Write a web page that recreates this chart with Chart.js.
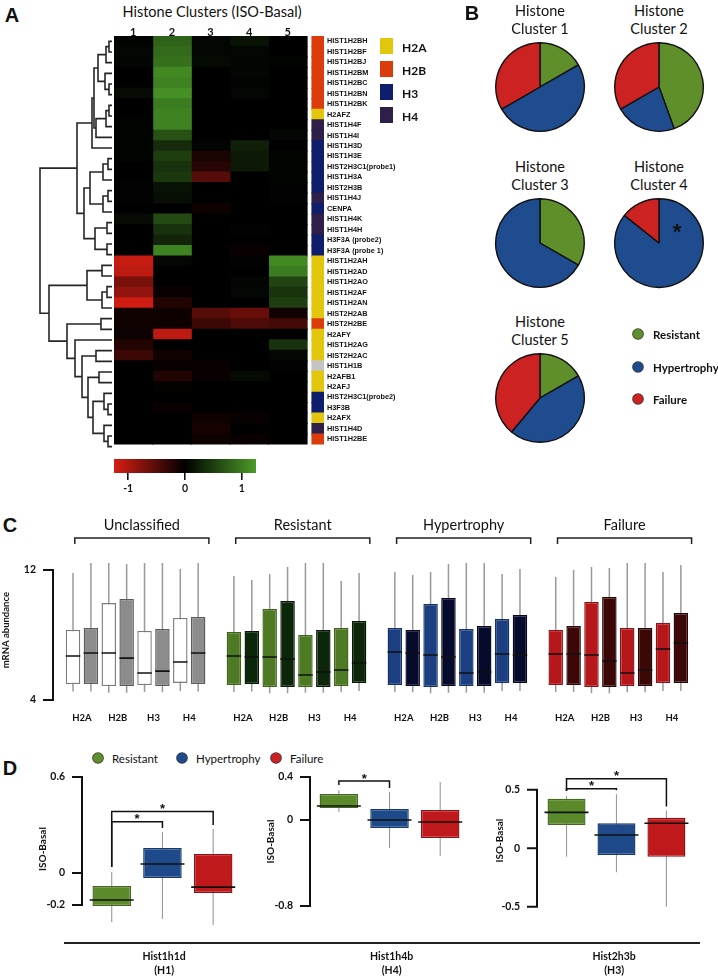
<!DOCTYPE html>
<html>
<head>
<meta charset="utf-8">
<script src="https://cdn.jsdelivr.net/npm/chart.js@4.4.1/dist/chart.umd.min.js"></script>
<style>
  body { margin: 0; width: 718px; height: 978px; position: relative; overflow: hidden; background: #fff; color: #111; font-family: Lato, "Open Sans", sans-serif; }
  canvas { position: absolute; }
  .t { position: absolute; white-space: nowrap; line-height: 1; }
</style>
</head>
<body>
<script>
// ---------- panel A : heatmap ----------
const colLabels = ['1', '2', '3', '4', '5'];
const geneNames = ['HIST1H2BH', 'HIST1H2BF', 'HIST1H2BJ', 'HIST1H2BM', 'HIST1H2BC', 'HIST1H2BN', 'HIST1H2BK', 'H2AFZ',
  'HIST1H4F', 'HIST1H4I', 'HIST1H3D', 'HIST1H3E', 'HIST2H3C1(probe1)', 'HIST1H3A', 'HIST2H3B', 'HIST1H4J', 'CENPA',
  'HIST1H4K', 'HIST1H4H', 'H3F3A (probe2)', 'H3F3A (probe 1)', 'HIST1H2AH', 'HIST1H2AD', 'HIST1H2AO', 'HIST1H2AF',
  'HIST1H2AN', 'HIST2H2AB', 'HIST2H2BE', 'H2AFY', 'HIST1H2AG', 'HIST2H2AC', 'HIST1H1B', 'H2AFB1', 'H2AFJ',
  'HIST2H3C1(probe2)', 'H3F3B', 'H2AFX', 'HIST1H4D', 'HIST1H2BE'];
const geneTypes = ['H2B', 'H2B', 'H2B', 'H2B', 'H2B', 'H2B', 'H2B', 'H2A',
  'H4', 'H4', 'H3', 'H3', 'H3', 'H3', 'H3', 'H4', 'H3',
  'H4', 'H4', 'H3', 'H3', 'H2A', 'H2A', 'H2A', 'H2A',
  'H2A', 'H2A', 'H2B', 'H2A', 'H2A', 'H2A', 'H1', 'H2A', 'H2A',
  'H3', 'H3', 'H2A', 'H4', 'H2B'];
const cluster1 = [0.03, 0.05, 0.05, 0, 0, 0.1, 0, 0, 0.03, 0.03, 0.03, 0.03, 0, 0, 0.02, 0.02, 0, 0.1, 0, 0, 0,
  -1.15, -1.1, -0.7, -0.85, -1.2, -0.1, -0.1, -0.07, -0.2, -0.35, 0, 0, 0, 0, 0, 0, 0, 0];
const cluster2 = [0.8, 0.85, 0.9, 1.1, 1.05, 1.15, 1.0, 1.05, 1.05, 0.65, 0.35, 0.5, 0.4, 0.45, 0.15, 0.12, 0, 0.6, 0.4, 0.3, 1.05,
  0.05, 0, 0, -0.05, -0.2, -0.08, -0.08, -1.1, 0, -0.1, -0.05, -0.2, -0.03, 0, -0.05, 0, 0, 0];
const cluster3 = [0.05, 0.05, 0.08, 0, 0, 0, 0, 0, 0, 0, 0.03, -0.15, -0.22, -0.5, 0, 0, -0.08, 0, 0, 0, 0,
  0, 0, 0, 0, 0, -0.5, -0.35, 0, 0, 0, -0.05, -0.05, 0, 0, 0, -0.08, -0.12, -0.08];
const cluster4 = [0.15, 0.05, 0.05, 0.05, 0.03, 0.05, 0, 0, 0, 0, 0.25, 0.2, 0.2, 0, 0, 0, 0, 0, 0.02, 0, -0.05,
  0.02, 0, 0.05, 0.05, 0, -0.6, -0.45, 0, 0, 0, 0, 0.08, 0, 0, 0, -0.05, 0, -0.05];
const cluster5 = [0, 0, 0.03, 0, 0, 0, 0, 0, 0, 0.05, 0, 0.03, 0.03, 0.03, 0.02, 0.02, 0, 0, 0, 0, 0,
  1.1, 1.0, 0.55, 0.42, 0.5, -0.1, -0.4, 0, 0.4, 0.05, 0.02, 0, 0, 0, 0, 0, 0, 0];
const histoneTypes = ['H2A', 'H2B', 'H3', 'H4'];
const colorbarTicks = [-1, 0, 1];
const colorbarRange = [-1.25, 1.25];
// dendrogram: [left, right, merge height], leaves are row numbers
const dendroTree = [
  [
    [[[[[1, 2, 3], 3, 6], [4, [5, 6, 3], 7], 14], [[[7, 8, 3], 9, 6], 10, 16], 18], 11, 20],
    [[[[12, 13, 4], 14, 9], [[15, 16, 4], 17, 9], 22], [[18, 19, 5], [20, 21, 5], 17], 28],
    35
  ],
  [
    [[22, 23, 10], [[24, 25, 5], 26, 10], 25],
    [[27, 28, 11], [29, [[30, 31, 16], [[32, 33, 13], [[34, [35, 36, 4], 8], [37, [38, 39, 4], 8], 19], 24], 30], 37], 45],
    63
  ],
  72
];

// ---------- panel B : pies ----------
const outcomes = ['Resistant', 'Hypertrophy', 'Failure'];
const pieTitles = ['Cluster 1', 'Cluster 2', 'Cluster 3', 'Cluster 4', 'Cluster 5'];
const pieCounts = [[1, 3, 2], [4, 2, 3], [1, 2, 0], [0, 6, 1], [3, 8, 7]];

// ---------- panel C : boxplots ----------
const cGroups = ['Unclassified', 'Resistant', 'Hypertrophy', 'Failure'];
const cTicks = [4, 12];
const cHi = [11.82, 12.43, 12.43, 12.37, 12.43, 12.43, 12.06, 12.43, 11.63, 11.38, 11.75, 12.18, 12.43, 12.43, 11.32, 11.82,
  11.88, 11.69, 11.88, 12.37, 12.43, 12.43, 11.75, 12.06, 11.57, 12.0, 12.18, 12.12, 12.43, 12.43, 11.88, 12.31];
const cQ3 = [8.31, 8.43, 9.97, 10.22, 8.25, 8.37, 9.05, 9.11, 8.18, 8.25, 9.6, 10.09, 8.0, 8.31, 8.43, 8.86,
  8.43, 8.31, 9.91, 10.28, 8.37, 8.55, 8.98, 9.23, 8.31, 8.55, 10.03, 10.34, 8.43, 8.43, 8.74, 9.35];
const cMed = [6.71, 6.89, 6.89, 6.58, 5.66, 5.78, 6.34, 6.89, 6.71, 6.65, 6.65, 6.52, 5.54, 5.72, 5.85, 6.28,
  6.95, 6.89, 6.77, 6.65, 5.66, 5.72, 6.83, 6.77, 6.83, 6.83, 6.77, 6.4, 5.66, 5.85, 7.14, 7.51];
const cQ1 = [4.98, 4.98, 4.86, 4.86, 4.92, 4.86, 5.05, 4.98, 4.92, 4.98, 4.8, 4.8, 4.8, 4.8, 4.86, 5.05,
  4.92, 4.86, 4.8, 4.86, 4.86, 4.86, 5.05, 5.05, 4.92, 4.92, 4.8, 4.8, 4.86, 4.86, 5.05, 5.05];
const cLo = [4.52, 4.52, 4.45, 4.45, 4.5, 4.47, 4.55, 4.52, 4.5, 4.52, 4.42, 4.42, 4.45, 4.45, 4.48, 4.55,
  4.5, 4.48, 4.42, 4.45, 4.45, 4.45, 4.55, 4.55, 4.5, 4.5, 4.42, 4.42, 4.47, 4.47, 4.55, 4.55];

// ---------- panel D : single genes ----------
const dGenes = ['Hist1h1d', 'Hist1h4b', 'Hist2h3b'];
const dFamilies = ['(H1)', '(H4)', '(H3)'];
const dTicks = [[-0.2, 0, 0.6], [-0.8, 0, 0.4], [-0.5, 0, 0.5]];
const dHi = [[0.006, 0.256, 0.275], [0.279, 0.26, 0.353], [0.446, 0.461, 0.322]];
const dQ3 = [[-0.081, 0.156, 0.119], [0.242, 0.102, 0.093], [0.422, 0.213, 0.26]];
const dMed = [[-0.169, 0.056, -0.088], [0.13, 0.0, -0.019], [0.306, 0.113, 0.213]];
const dQ1 = [[-0.206, -0.031, -0.125], [0.112, -0.074, -0.167], [0.198, -0.058, -0.074]];
const dLo = [[-0.306, -0.288, -0.325], [0.074, -0.26, -0.335], [-0.074, -0.205, -0.5]];
const dSignif = [[[0, 1], [0, 2]], [[0, 1]], [[0, 1], [0, 2]]];

// ---------- styles ----------
Chart.defaults.font.family = 'Lato, "Open Sans", sans-serif';
Chart.defaults.color = '#111';
const typeColors = { H2A: '#e2c60c', H2B: '#dc3b0b', H3: '#0e1d6c', H4: '#2d1f48', H1: '#c4c4c4' };
const outcomeColors = ['#5f8f2a', '#1f4b8f', '#cc2222'];
const cFill = [['#ffffff', '#8c8c8c'], ['#4d7a23', '#0b2609'], ['#1b3f80', '#060a2b'], ['#b6171b', '#3c0707']];
const cBorder = [['#7c7c7c', '#5c5c5c'], ['#3e641c', '#061805'], ['#15336a', '#03061c'], ['#931216', '#290404']];
const dFill = ['#5b8a2b', '#1f4a8a', '#c0191b'];
const dBorder = ['#456a1f', '#173a6e', '#901214'];
const noGrid = { display: false, drawTicks: false };

function heatColor(v) {
  const t = Math.min(Math.abs(v) / 1.25, 1);
  return v >= 0
    ? `rgb(${Math.round(75 * t)},${Math.round(155 * t)},${Math.round(40 * t)})`
    : `rgb(${Math.round(215 * t)},${Math.round(30 * t)},${Math.round(20 * t)})`;
}

function addCanvas(left, top, w, h) {
  const c = document.createElement('canvas');
  c.width = w; c.height = h;
  c.style.left = left + 'px'; c.style.top = top + 'px';
  document.body.appendChild(c);
  return c;
}

function addText(txt, x, y, font, align = 'center') {
  const d = document.createElement('div');
  d.className = 't';
  d.textContent = txt;
  d.style.font = font;
  d.style.left = x + 'px'; d.style.top = y + 'px';
  d.style.transform = align === 'center' ? 'translate(-50%,-50%)' : 'translate(0,-50%)';
  document.body.appendChild(d);
  return d;
}

function addBlock(x, y, w, h, css) {
  const d = document.createElement('div');
  d.style.cssText = `position:absolute;left:${x}px;top:${y}px;width:${w}px;height:${h}px;` + css;
  document.body.appendChild(d);
}

const baseOpts = {
  responsive: false,
  animation: false,
  events: [],
  plugins: { legend: { display: false }, tooltip: { enabled: false } },
};

// ---------- panel A ----------
addText('A', 12, 15, 'bold 20px "Liberation Sans", sans-serif');
addText('Histone Clusters (ISO-Basal)', 212, 11, '14.5px Lato');

// dendrogram segments from the tree
const dendroPts = [];
const layoutTree = (node) => {
  if (typeof node === 'number') return { y: node - 0.5, d: 0 };
  const a = layoutTree(node[0]), b = layoutTree(node[1]), h = node[2];
  dendroPts.push({ x: a.d, y: a.y }, { x: h, y: a.y }, { x: h, y: b.y }, { x: b.d, y: b.y }, { x: NaN, y: NaN });
  return { y: (a.y + b.y) / 2, d: h };
};
layoutTree(dendroTree);

new Chart(addCanvas(36, 36, 78, 416), {
  type: 'scatter',
  data: { datasets: [{ data: dendroPts, showLine: true, spanGaps: false, borderColor: '#262626', borderWidth: 1.6, pointRadius: 0 }] },
  options: {
    ...baseOpts,
    layout: { padding: 0 },
    scales: {
      x: { type: 'linear', min: -2, max: 76, reverse: true, display: false },
      y: { type: 'linear', min: 0, max: geneNames.length, reverse: true, display: false },
    },
  },
});

const heatColumns = [cluster1, cluster2, cluster3, cluster4, cluster5];
new Chart(addCanvas(114, 0, 300, 452), {
  type: 'bar',
  data: {
    labels: geneNames,
    datasets: [
      ...heatColumns.map((vals, c) => ({
        data: geneNames.map(() => [c, c + 1]),
        backgroundColor: vals.map(heatColor),
        borderWidth: 0, inflateAmount: 0.6,
        categoryPercentage: 1, barPercentage: 1, grouped: false,
      })),
      {
        data: geneNames.map(() => [5.13, 5.44]),
        backgroundColor: geneTypes.map(t => typeColors[t]),
        borderWidth: 0, inflateAmount: 0.6,
        categoryPercentage: 1, barPercentage: 1, grouped: false,
      },
    ],
  },
  options: {
    ...baseOpts,
    indexAxis: 'y',
    layout: { padding: 0 },
    scales: {
      x: {
        type: 'linear', position: 'top', min: 0, max: 5.44, offset: false,
        grid: noGrid, border: { display: false },
        afterBuildTicks: s => { s.ticks = colLabels.map((_, i) => ({ value: i + 0.5 })); },
        afterFit: s => { s.height = 36; },
        ticks: { callback: (v) => colLabels[Math.round(v - 0.5)], font: { size: 11, weight: 'bold' }, padding: -3, maxRotation: 0, autoSkip: false },
      },
      y: {
        type: 'category', position: 'right',
        grid: noGrid, border: { display: false },
        afterFit: s => { s.width = 90; },
        ticks: { autoSkip: false, padding: 3, font: { size: 7.3, weight: 'bold', family: '"Liberation Sans", sans-serif' } },
      },
    },
  },
});

// type legend
histoneTypes.forEach((t, i) => {
  const cy = 46 + i * 23;
  addBlock(380, cy - 8, 13, 16, `background:${typeColors[t]}`);
  addText(t, 402, cy + 1, 'bold 12px Lato', 'left');
});

// colour key
new Chart(addCanvas(104, 456, 166, 40), {
  type: 'bar',
  data: {
    labels: [''],
    datasets: [{
      data: [colorbarRange],
      borderWidth: 0, categoryPercentage: 1, barPercentage: 1,
      backgroundColor: (ctx) => {
        const chart = ctx.chart;
        if (!chart.chartArea) return '#000';
        const xs = chart.scales.x;
        const g = chart.ctx.createLinearGradient(xs.getPixelForValue(colorbarRange[0]), 0, xs.getPixelForValue(colorbarRange[1]), 0);
        for (let k = 0; k <= 10; k++) {
          const v = colorbarRange[0] + (colorbarRange[1] - colorbarRange[0]) * k / 10;
          g.addColorStop(k / 10, heatColor(v));
        }
        return g;
      },
    }],
  },
  options: {
    ...baseOpts,
    indexAxis: 'y',
    layout: { padding: { left: 10, right: 14, top: 3, bottom: 0 } },
    scales: {
      x: {
        type: 'linear', min: colorbarRange[0], max: colorbarRange[1], offset: false,
        border: { display: false },
        grid: { drawOnChartArea: false, drawTicks: true, tickLength: 7, color: '#111', lineWidth: 1.6 },
        afterBuildTicks: s => { s.ticks = colorbarTicks.map(v => ({ value: v })); },
        afterFit: s => { s.height = 23; },
        ticks: { callback: v => String(v), font: { size: 10.5, weight: 'bold' }, padding: 2, maxRotation: 0 },
      },
      y: { display: false },
    },
  },
});

// ---------- panel B ----------
addText('B', 472, 13, 'bold 20px "Liberation Sans", sans-serif');
const pieCenters = [[540, 87], [659, 87], [540, 243], [659, 243], [540, 398]];
pieCounts.forEach((counts, i) => {
  const [cx, cy] = pieCenters[i];
  addText('Histone', cx, cy - 77, '14.5px Lato');
  addText(pieTitles[i], cx, cy - 59, '14.5px Lato');
  new Chart(addCanvas(cx - 46, cy - 46, 92, 92), {
    type: 'pie',
    data: { labels: outcomes, datasets: [{ data: counts, backgroundColor: outcomeColors, borderColor: '#111', borderWidth: 1.4 }] },
    options: { ...baseOpts, layout: { padding: 1 } },
  });
});
addText('*', 677, 232, 'bold 22px "Liberation Sans", sans-serif');
outcomes.forEach((o, i) => {
  const cy = 334 + i * 32.5;
  addBlock(633, cy - 5, 10, 10, `background:${outcomeColors[i]};border-radius:50%;box-shadow:0 0 0 0.8px #333`);
  addText(o, 653, cy, 'bold 11.5px Lato', 'left');
});

// ---------- shared plugins ----------
const axisBracket = {
  id: 'axisBracket',
  afterDraw(chart) {
    const { ctx, chartArea, scales: { y } } = chart;
    const vals = y.ticks.map(t => t.value);
    const x0 = chartArea.left;
    ctx.save();
    ctx.strokeStyle = '#111';
    ctx.lineWidth = 2;
    ctx.beginPath();
    ctx.moveTo(x0, y.getPixelForValue(Math.max(...vals)) - 1);
    ctx.lineTo(x0, y.getPixelForValue(Math.min(...vals)) + 1);
    vals.forEach(v => {
      const py = y.getPixelForValue(v);
      ctx.moveTo(x0 - 10, py);
      ctx.lineTo(x0, py);
    });
    ctx.stroke();
    ctx.restore();
  },
};

function boxDatasets(pos, lo, q1, med, q3, hi, fill, border, boxRatio, whiskerRatio, medRadius) {
  return [
    {
      type: 'scatter', order: 1,
      data: pos.map((x, i) => ({ x, y: med[i] })),
      pointStyle: 'line', pointRadius: medRadius, pointBorderColor: '#111', pointBorderWidth: 1.6,
    },
    {
      order: 2, grouped: false,
      data: pos.map((x, i) => ({ x, y: [q1[i], q3[i]] })),
      backgroundColor: fill, borderColor: border, borderWidth: 1.4, borderSkipped: false,
      categoryPercentage: 1, barPercentage: boxRatio,
    },
    {
      order: 3, grouped: false,
      data: pos.map((x, i) => ({ x, y: [lo[i], hi[i]] })),
      backgroundColor: '#9a9a9a', borderWidth: 0,
      categoryPercentage: 1, barPercentage: whiskerRatio,
    },
  ];
}

// ---------- panel C ----------
addText('C', 10, 525, 'bold 20px "Liberation Sans", sans-serif');
const slotsPerGroup = 9;
const cPos = cMed.map((_, i) => Math.floor(i / 8) * slotsPerGroup + (i % 8));
const cFillList = cPos.map((_, i) => cFill[Math.floor(i / 8)][i % 2]);
const cBorderList = cPos.map((_, i) => cBorder[Math.floor(i / 8)][i % 2]);

const cDecor = {
  id: 'cDecor',
  afterDraw(chart) {
    const { ctx, scales: { x } } = chart;
    ctx.save();
    ctx.strokeStyle = '#222';
    ctx.lineWidth = 1.5;
    ctx.fillStyle = '#111';
    ctx.font = '14.5px Lato';
    ctx.textAlign = 'center';
    ctx.textBaseline = 'middle';
    cGroups.forEach((g, i) => {
      const x0 = x.getPixelForValue(i * slotsPerGroup + 0.1);
      const x1 = x.getPixelForValue(i * slotsPerGroup + 7.6);
      ctx.beginPath();
      ctx.moveTo(x0, 34); ctx.lineTo(x0, 28); ctx.lineTo(x1, 28); ctx.lineTo(x1, 34);
      ctx.stroke();
      ctx.fillText(g, (x0 + x1) / 2, 15);
    });
    ctx.restore();
  },
};

new Chart(addCanvas(0, 510, 718, 220), {
  type: 'bar',
  data: { datasets: boxDatasets(cPos, cLo, cQ1, cMed, cQ3, cHi, cFillList, cBorderList, 0.81, 0.085, 7.25) },
  options: {
    ...baseOpts,
    layout: { padding: { left: 0, right: 18, top: 50.25, bottom: 0 } },
    scales: {
      x: {
        type: 'linear', min: -1.12, max: 35.07, offset: false,
        grid: noGrid, border: { display: false },
        afterBuildTicks: s => {
          s.ticks = [];
          cGroups.forEach((_, g) => histoneTypes.forEach((_, k) => s.ticks.push({ value: g * slotsPerGroup + 2 * k + 0.5 })));
        },
        afterFit: s => { s.height = 30; },
        ticks: { callback: (v, i) => histoneTypes[i % 4], font: { size: 9.5, weight: 'bold' }, padding: 12, maxRotation: 0, autoSkip: false },
      },
      y: {
        type: 'linear', min: 4, max: 12.6,
        grid: noGrid, border: { display: false },
        afterBuildTicks: s => { s.ticks = cTicks.map(v => ({ value: v })); },
        afterFit: s => { s.width = 53; },
        ticks: { callback: v => String(v), font: { size: 10.5, weight: 'bold' }, padding: 17 },
        title: { display: true, text: 'mRNA abundance', font: { size: 9.5, weight: 'bold' }, padding: { top: 0, bottom: 0 } },
      },
    },
  },
  plugins: [axisBracket, cDecor],
});

// ---------- panel D ----------
addText('D', 10, 768, 'bold 20px "Liberation Sans", sans-serif');
[98, 182, 276].forEach((lx, i) => {
  addBlock(lx - 5, 753, 10, 10, `background:${outcomeColors[i]};border-radius:50%;box-shadow:0 0 0 0.8px #333`);
  addText(outcomes[i], lx + 14, 758, '11.5px Lato', 'left');
});
addBlock(64, 942, 636, 1.5, 'background:#222');

const sigPlugin = {
  id: 'sig',
  afterDraw(chart, args, opts) {
    const { ctx, scales: { x, y } } = chart;
    ctx.save();
    ctx.strokeStyle = '#111';
    ctx.fillStyle = '#111';
    ctx.lineWidth = 1.5;
    ctx.font = 'bold 13px "Liberation Sans", sans-serif';
    ctx.textAlign = 'center';
    ctx.textBaseline = 'middle';
    opts.pairs.forEach(([a, b], k) => {
      const xa = x.getPixelForValue(a), xb = x.getPixelForValue(b);
      const yl = y.getPixelForValue(opts.levels[k]);
      const ya = y.getPixelForValue(opts.tops[a]) - 5, yb = y.getPixelForValue(opts.tops[b]) - 4;
      ctx.beginPath();
      ctx.moveTo(xa, ya); ctx.lineTo(xa, yl); ctx.lineTo(xb, yl); ctx.lineTo(xb, yb);
      ctx.stroke();
      ctx.fillText('*', (xa + xb) / 2, yl - 2);
    });
    ctx.restore();
  },
};

const dLayout = [
  { left: 0, width: 270, axisW: 82, xMin: -0.586, xMax: 2.655, yMin: -0.35, yMax: 0.65, padTop: 24, axisH: 49, levels: [0.32, 0.385], titlePad: 37 },
  { left: 230, width: 267, axisW: 80, xMin: -0.569, xMax: 2.655, yMin: -0.87, yMax: 0.47, padTop: 24.5, axisH: 64.5, levels: [0.363], titlePad: 35 },
  { left: 460, width: 255, axisW: 77, xMin: -0.591, xMax: 2.5, yMin: -0.55, yMax: 0.68, padTop: 8.8, axisH: 65.5, levels: [0.508, 0.593], titlePad: 34 },
];

dGenes.forEach((gene, k) => {
  const L = dLayout[k];
  new Chart(addCanvas(L.left, 745, L.width, 978 - 745), {
    type: 'bar',
    data: { datasets: boxDatasets([0, 1, 2], dLo[k], dQ1[k], dMed[k], dQ3[k], dHi[k], dFill, dBorder, 0.76, 0.022, 22) },
    options: {
      ...baseOpts,
      layout: { padding: { left: 0, right: 0, top: L.padTop, bottom: 0 } },
      plugins: { ...baseOpts.plugins, sig: { pairs: dSignif[k], levels: L.levels, tops: dHi[k] } },
      scales: {
        x: {
          type: 'linear', min: L.xMin, max: L.xMax, offset: false,
          grid: noGrid, border: { display: false },
          ticks: { display: false },
          afterFit: s => { s.height = L.axisH; },
          title: {
            display: true, text: [gene, dFamilies[k]],
            font: { size: 10.5, weight: 'bold', lineHeight: '14px' }, padding: { top: 0, bottom: 0 },
          },
        },
        y: {
          type: 'linear', min: L.yMin, max: L.yMax,
          grid: noGrid, border: { display: false },
          afterBuildTicks: s => { s.ticks = dTicks[k].map(v => ({ value: v })); },
          afterFit: s => { s.width = L.axisW; },
          ticks: { callback: v => String(v), font: { size: 10.5, weight: 'bold' }, padding: 17 },
          title: { display: true, text: 'ISO-Basal', font: { size: 10, weight: 'bold' }, padding: { top: L.titlePad, bottom: 0 } },
        },
      },
    },
    plugins: [axisBracket, sigPlugin],
  });
});
</script>
</body>
</html>
